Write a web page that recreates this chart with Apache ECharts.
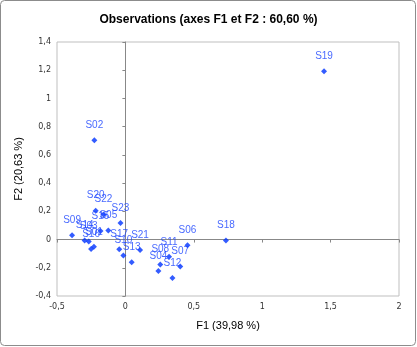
<!DOCTYPE html>
<html><head><meta charset="utf-8">
<script src="https://cdn.jsdelivr.net/npm/echarts@6/dist/echarts.min.js"></script>
<style>html,body{margin:0;padding:0;background:#fff}#c{width:417px;height:347px}</style>
</head><body><div id="c"></div>
<script>
const labels = ['S01','S02','S03','S04','S05','S06','S07','S08','S09','S10','S11','S12','S13','S14','S15','S16','S17','S18','S19','S20','S21','S22','S23'];
const f1 = [-0.230,-0.227,-0.268,0.241,-0.125,0.454,0.401,0.255,-0.390,-0.015,0.319,0.344,0.046,-0.298,-0.182,-0.251,-0.045,0.735,1.452,-0.217,0.107,-0.160,-0.036];
const f2 = [-0.051,0.704,-0.013,-0.223,0.065,-0.041,-0.191,-0.176,0.030,-0.113,-0.122,-0.272,-0.161,-0.006,0.060,-0.067,-0.069,-0.007,1.192,0.205,-0.074,0.177,0.117];
const title = 'Observations (axes F1 et F2 : 60,60 %)';
const xName = 'F1 (39,98 %)';
const yName = 'F2 (20,63 %)';

const pts = labels.map((n,i)=>({name:n,value:[f1[i],f2[i]]}));
const fmt = v => String(Math.round(v*10)/10).replace('.',',');
const ff = 'Liberation Sans, Arial, sans-serif';
const chart = echarts.init(document.getElementById('c'));
const xBase = {type:'value',min:-0.5,max:2,interval:0.5};
const yBase = {type:'value',min:-0.4,max:1.4,interval:0.2};
chart.setOption({
  animation:false,
  title:{text:title,left:'center',top:9,textStyle:{fontFamily:ff,fontSize:12,fontWeight:'bold',color:'#000'}},
  graphic:[{type:'rect',shape:{x:0.5,y:0.5,width:415,height:345,r:4},style:{fill:'none',stroke:'#8c8c8c',lineWidth:1}}],
  grid:{left:57,right:18,top:42,bottom:51,show:true,borderColor:'#bfbfbf',borderWidth:1},
  xAxis:[
    Object.assign({},xBase,{position:'bottom',name:xName,nameLocation:'middle',nameGap:24,
      nameTextStyle:{fontFamily:ff,fontSize:11,color:'#000'},
      axisLine:{show:false},axisTick:{show:false},splitLine:{show:false},
      axisLabel:{formatter:fmt,fontFamily:'DejaVu Sans',fontSize:8,color:'#333',margin:7}}),
    Object.assign({},xBase,{position:'bottom',axisLine:{show:true,onZero:true,lineStyle:{color:'#888'}},
      axisTick:{show:true,length:3,inside:false,lineStyle:{color:'#888'}},axisLabel:{show:false},splitLine:{show:false}})
  ],
  yAxis:[
    Object.assign({},yBase,{position:'left',name:yName,nameLocation:'middle',nameGap:30,nameRotate:90,
      nameTextStyle:{fontFamily:ff,fontSize:11,color:'#000'},
      axisLine:{show:false},axisTick:{show:false},splitLine:{show:false},
      axisLabel:{formatter:fmt,fontFamily:'DejaVu Sans',fontSize:8,color:'#333',margin:6}}),
    Object.assign({},yBase,{position:'left',axisLine:{show:true,onZero:true,lineStyle:{color:'#888'}},
      axisTick:{show:true,length:3,inside:false,lineStyle:{color:'#888'}},axisLabel:{show:false},splitLine:{show:false}})
  ],
  series:[{type:'scatter',xAxisIndex:0,yAxisIndex:0,data:pts,symbol:'diamond',symbolSize:6,
    itemStyle:{color:'#0033ff'},
    label:{show:true,position:'top',distance:7,formatter:p=>p.name,fontFamily:ff,fontSize:10,color:'#1a44ff'}}]
});
</script></body></html>
